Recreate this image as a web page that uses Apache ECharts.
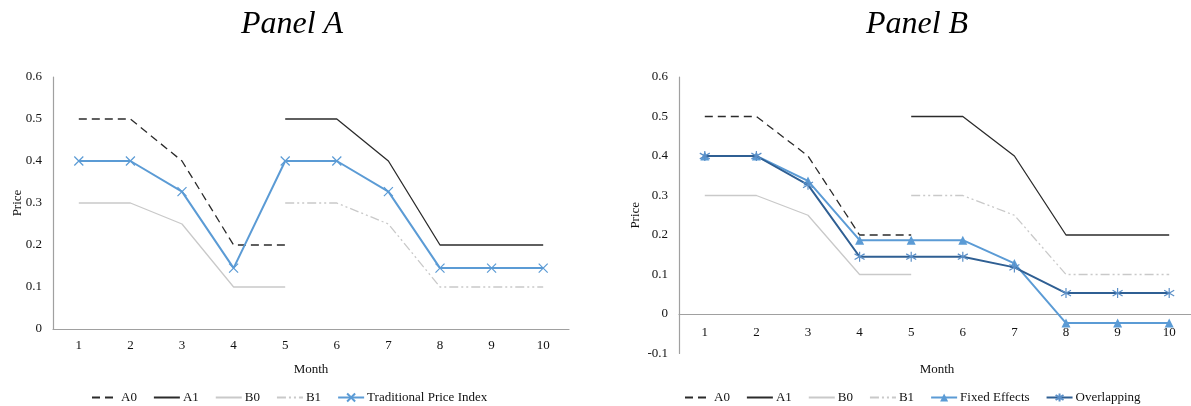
<!DOCTYPE html>
<html>
<head>
<meta charset="utf-8">
<script src="https://cdn.jsdelivr.net/npm/echarts@6/dist/echarts.min.js"></script>
<style>
html,body{margin:0;padding:0;background:#fff;}
#c{width:1191px;height:406px;}
</style>
</head>
<body>
<div id="c"></div>
<script>
var months = ['1','2','3','4','5','6','7','8','9','10'];
var yTicksA = [0, 0.6, 0.1];   // min, max, interval
var yTicksB = [-0.1, 0.6, 0.1];

var a0 = [0.5, 0.5, 0.4, 0.2, 0.2, null, null, null, null, null];
var a1 = [null, null, null, null, 0.5, 0.5, 0.4, 0.2, 0.2, 0.2];
var b0 = [0.3, 0.3, 0.25, 0.1, 0.1, null, null, null, null, null];
var b1 = [null, null, null, null, 0.3, 0.3, 0.25, 0.1, 0.1, 0.1];
var traditional = [0.4, 0.4, 0.327, 0.145, 0.4, 0.4, 0.327, 0.145, 0.145, 0.145];
var fixedEffects = [0.4, 0.4, 0.337, 0.187, 0.187, 0.187, 0.128, -0.023, -0.023, -0.023];
var overlapping = [0.4, 0.4, 0.327, 0.145, 0.145, 0.145, 0.118, 0.053, 0.053, 0.053];

var FONT = '"Liberation Serif", "Times New Roman", serif';
var AX = '#a0a0a0';
var crossPath = 'path://M-1,-1L1,1M-1,1L1,-1';
var starPath = 'path://M0,-1.15L0,1.15M-1,-0.66L1,0.66M-1,0.66L1,-0.66';

function base(name, data, xi, style) {
  return {
    name: name, type: 'line', data: data, xAxisIndex: xi, yAxisIndex: xi,
    symbol: 'none', connectNulls: false, animation: false,
    lineStyle: style, itemStyle: {color: style.color}, z: 2
  };
}
var stA0 = {color: '#2b2b2b', width: 1.3, type: [8, 5]};
var stA1 = {color: '#2b2b2b', width: 1.3, type: 'solid'};
var stB0 = {color: '#c9c9c9', width: 1.3, type: 'solid'};
var stB1 = {color: '#c9c9c9', width: 1.3, type: [9, 3, 2, 3, 2, 3]};

var series = [];
[0, 1].forEach(function (i) {
  series.push(base('A0', a0, i, stA0));
  series.push(base('A1', a1, i, stA1));
  series.push(base('B0', b0, i, stB0));
  series.push(base('B1', b1, i, stB1));
});
series.push({
  name: 'Traditional Price Index', type: 'line', data: traditional, xAxisIndex: 0, yAxisIndex: 0,
  symbol: crossPath, symbolSize: 9, showAllSymbol: true, animation: false, z: 5,
  lineStyle: {color: '#5b9bd5', width: 2},
  itemStyle: {color: 'rgba(0,0,0,0)', borderColor: '#5b9bd5', borderWidth: 1.2}
});
series.push({
  name: 'Fixed Effects', type: 'line', data: fixedEffects, xAxisIndex: 1, yAxisIndex: 1,
  symbol: 'triangle', symbolSize: 9, showAllSymbol: true, animation: false, z: 5,
  lineStyle: {color: '#5b9bd5', width: 2},
  itemStyle: {color: '#5b9bd5'}
});
series.push({
  name: 'Overlapping', type: 'line', data: overlapping, xAxisIndex: 1, yAxisIndex: 1,
  symbol: starPath, symbolSize: 10, showAllSymbol: true, animation: false, z: 6,
  lineStyle: {color: '#2f5f93', width: 2},
  itemStyle: {color: 'rgba(0,0,0,0)', borderColor: '#5b8fc7', borderWidth: 1.2}
});

function xAxis(i, gap, margin) {
  return {
    type: 'category', data: months, gridIndex: i, boundaryGap: true,
    name: 'Month', nameLocation: 'middle', nameGap: gap, nameMoveOverlap: false,
    nameTextStyle: {fontFamily: FONT, fontSize: 13, color: '#111'},
    axisLine: {onZero: true, lineStyle: {color: AX, width: 1.2}},
    axisTick: {show: false},
    axisLabel: {fontFamily: FONT, fontSize: 13, color: '#111', margin: margin},
    splitLine: {show: false}
  };
}
function yAxis(i, t, gap) {
  return {
    type: 'value', gridIndex: i, min: t[0], max: t[1], interval: t[2],
    name: 'Price', nameLocation: 'middle', nameGap: gap, nameRotate: 90, nameMoveOverlap: false,
    nameTextStyle: {fontFamily: FONT, fontSize: 13, color: '#111'},
    axisLine: {show: true, onZero: false, lineStyle: {color: AX, width: 1.2}},
    axisTick: {show: false},
    axisLabel: {fontFamily: FONT, fontSize: 13, color: '#111', margin: 11},
    splitLine: {show: false}
  };
}

var hidden = {color: 'rgba(0,0,0,0)', borderColor: 'rgba(0,0,0,0)', borderWidth: 0};
function plain(n) { return {name: n, itemStyle: hidden}; }

var legendCommon = {
  itemWidth: 26, itemHeight: 10, itemGap: 16,
  textStyle: {fontFamily: FONT, fontSize: 13, color: '#111', padding: [0, 0, 0, -2]},
  selectedMode: false, top: 386
};

var option = {
  backgroundColor: '#fff',
  animation: false,
  title: [
    {text: 'Panel A', left: 287, top: 4, textAlign: 'center',
     textStyle: {fontFamily: FONT, fontStyle: 'italic', fontWeight: 'normal', fontSize: 32, color: '#000'}},
    {text: 'Panel B', left: 912, top: 4, textAlign: 'center',
     textStyle: {fontFamily: FONT, fontStyle: 'italic', fontWeight: 'normal', fontSize: 32, color: '#000'}}
  ],
  grid: [
    {left: 53, top: 77, width: 516, height: 252, containLabel: false, outerBoundsMode: 'none'},
    {left: 679, top: 77, width: 516, height: 276.5, containLabel: false, outerBoundsMode: 'none'}
  ],
  xAxis: [xAxis(0, 34, 10), xAxis(1, 10, -27)],
  yAxis: [yAxis(0, yTicksA, 29), yAxis(1, yTicksB, 37)],
  legend: [
    Object.assign({}, legendCommon, {left: 86, width: 440,
      data: [plain('A0'), plain('A1'), plain('B0'), plain('B1'), 'Traditional Price Index']}),
    Object.assign({}, legendCommon, {left: 679, width: 510,
      data: [plain('A0'), plain('A1'), plain('B0'), plain('B1'), 'Fixed Effects', 'Overlapping']})
  ],
  series: series
};

var chart = echarts.init(document.getElementById('c'), null, {renderer: 'canvas'});
chart.setOption(option);
</script>
</body>
</html>
